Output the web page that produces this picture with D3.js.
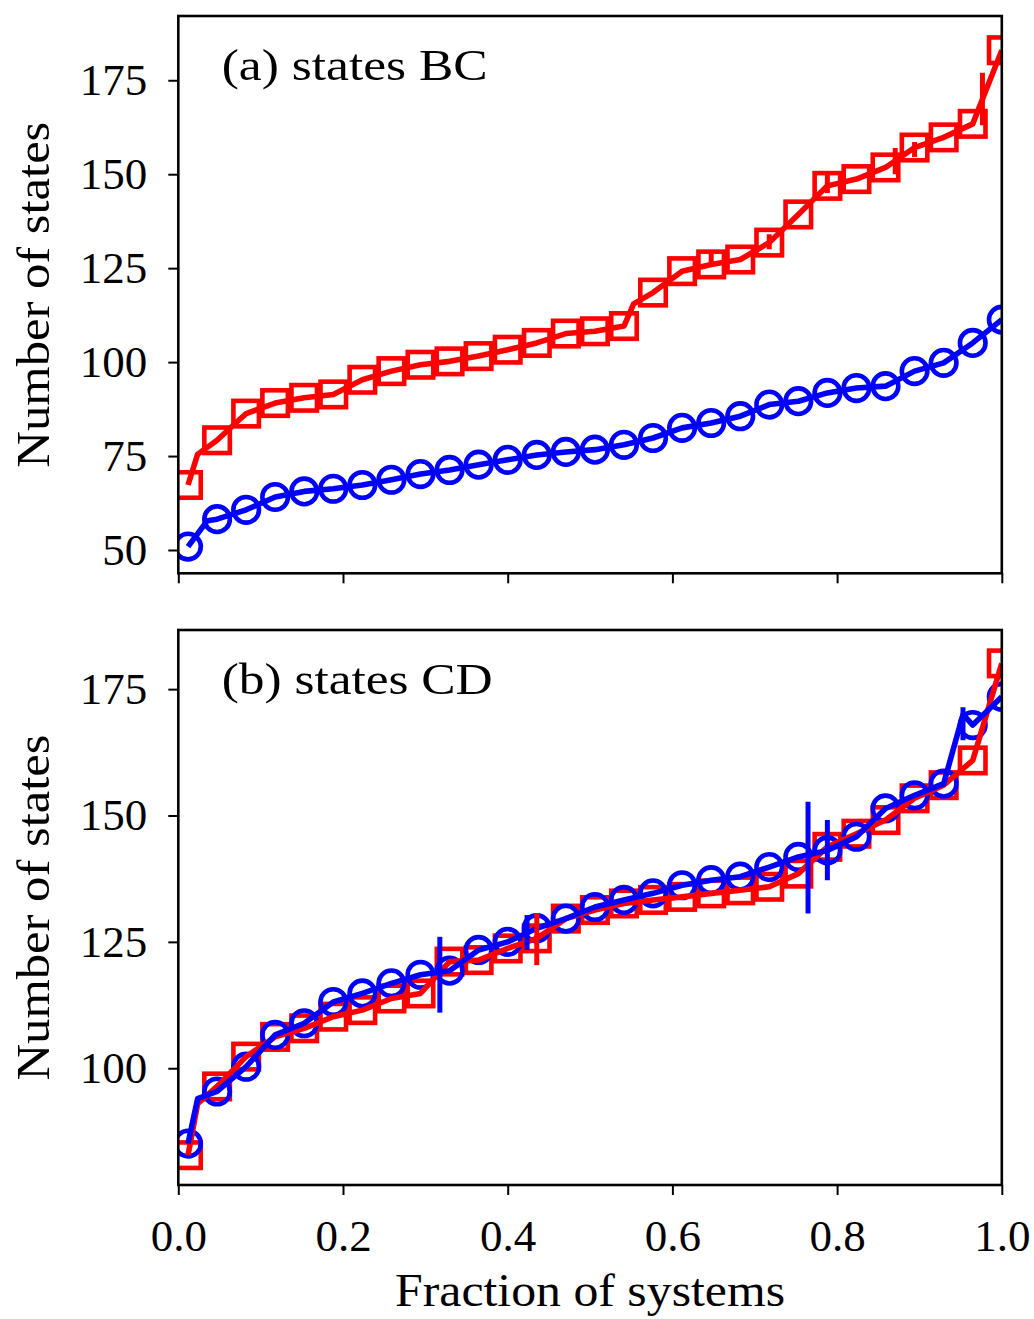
<!DOCTYPE html>
<html><head><meta charset="utf-8">
<script src="https://cdn.jsdelivr.net/npm/d3@7"></script>
<style>
body{margin:0;background:#fff}
svg text{font-family:"Liberation Serif","Times New Roman",serif;fill:#000}
</style>
</head><body><svg id="chart" width="1034" height="1319"></svg>
<script>
// ---------- data ----------
const fractionTicks = [0, 0.2, 0.4, 0.6, 0.8, 1.0];
const fractionTickLabels = ["0.0", "0.2", "0.4", "0.6", "0.8", "1.0"];
const markerFractions = [0.0118, 0.0471, 0.0824, 0.1176, 0.1529, 0.1882, 0.2235, 0.2588, 0.2941, 0.3294,
  0.3647, 0.4000, 0.4353, 0.4706, 0.5059, 0.5412, 0.5765, 0.6118, 0.6471, 0.6824,
  0.7176, 0.7529, 0.7882, 0.8235, 0.8588, 0.8941, 0.9294, 0.9647, 1.0000];

const bcTicks = [50, 75, 100, 125, 150, 175];
const cdTicks = [100, 125, 150, 175];

// panel (a) states BC
const bcRed = [67.3, 79.2, 86.3, 89.1, 90.5, 91.4, 95.3, 97.6, 99.3, 100.2, 101.6, 103.3, 105.1, 107.6, 108.2,
  109.6, 118.5, 124.2, 126.0, 127.3, 131.8, 139.3, 146.9, 148.7, 151.8, 157.1, 159.8, 163.4, 183.0];
const bcBlue = [50.9, 58.2, 60.7, 64.1, 65.6, 66.3, 67.3, 68.7, 70.2, 71.3, 72.7, 74.0, 75.3, 76.1, 76.7,
  78.0, 79.8, 82.5, 83.8, 85.6, 88.7, 89.6, 91.8, 93.1, 93.6, 97.6, 99.8, 105.1, 111.3];
const bcRedExtraX = [0.0235, 0.0706, 0.5529];
const bcRedExtraY = [75.5, 84.0, 115.5];
const bcBlueExtraX = [0.0353];
const bcBlueExtraY = [57.8];
const bcRedErrX  = [0.6471, 0.7176, 0.7882, 0.8706, 0.8941, 0.9765];
const bcRedErrLo = [126.0, 130.0, 145.0, 150.0, 154.6, 163.0];
const bcRedErrHi = [129.3, 134.0, 150.0, 157.0, 158.6, 177.0];
const bcBlueErrX = [], bcBlueErrLo = [], bcBlueErrHi = [];

// panel (b) states CD
const cdRed = [82.8, 96.4, 102.3, 106.2, 107.9, 110.2, 111.5, 113.8, 114.8, 121.1, 121.4, 123.7, 125.7, 129.6, 131.3,
  132.6, 133.3, 133.9, 134.6, 135.2, 135.9, 138.5, 143.8, 146.4, 149.1, 153.4, 156.0, 160.9, 180.1];
const cdBlue = [85.1, 95.4, 100.3, 106.6, 108.9, 113.1, 114.8, 116.8, 118.5, 119.3, 123.4, 125.0, 127.7, 129.6, 131.9,
  133.3, 134.6, 136.2, 137.2, 137.9, 139.8, 141.8, 143.1, 145.8, 151.4, 154.0, 156.3, 167.9, 173.5];
const cdRedExtraX = [0.0235];
const cdRedExtraY = [93.0];
const cdBlueExtraX = [0.0235, 0.9529];
const cdBlueExtraY = [94.0, 170.0];
const cdRedErrX  = [0.4353];
const cdRedErrLo = [120.4];
const cdRedErrHi = [130.7];
const cdBlueErrX  = [0.3176, 0.4235, 0.7647, 0.7882, 0.9529];
const cdBlueErrLo = [111.0, 123.4, 130.6, 137.2, 164.9];
const cdBlueErrHi = [126.0, 130.3, 152.7, 149.1, 171.4];

const xTitle = "Fraction of systems";
const yTitle = "Number of states";

// ---------- drawing ----------
const svg = d3.select("#chart");
const L = 178.3, R = 1001.8;
const RED = "#ff0000", BLUE = "#0000ff";
const x = d3.scaleLinear().domain([0, 1]).range([L, R]);

function mergeLine(xs, ys, ex, ey) {
  const pts = xs.map((v, i) => [v, ys[i]]).concat(ex.map((v, i) => [v, ey[i]]));
  return pts.sort((a, b) => a[0] - b[0]);
}

function panel(cfg, idx) {
  const y = d3.scaleLinear().domain(cfg.domain).range([cfg.bottom, cfg.top]);
  const clipId = "clip" + idx;
  svg.append("clipPath").attr("id", clipId).append("rect")
    .attr("x", L).attr("y", cfg.top).attr("width", R - L).attr("height", cfg.bottom - cfg.top);
  const g = svg.append("g").attr("clip-path", `url(#${clipId})`);

  const line = d3.line().x(d => x(d[0])).y(d => y(d[1]));
  const s = 25.5;
  // red squares
  g.selectAll(null).data(markerFractions).enter().append("rect")
    .attr("x", (d) => x(d) - s / 2).attr("y", (d, i) => y(cfg.red[i]) - s / 2)
    .attr("width", s).attr("height", s)
    .attr("fill", "none").attr("stroke", RED).attr("stroke-width", 4.6);
  // blue circles
  g.selectAll(null).data(markerFractions).enter().append("circle")
    .attr("cx", d => x(d)).attr("cy", (d, i) => y(cfg.blue[i])).attr("r", 12.8)
    .attr("fill", "none").attr("stroke", BLUE).attr("stroke-width", 4.6);
  // lines
  g.append("path").datum(mergeLine(markerFractions, cfg.red, cfg.redEx[0], cfg.redEx[1]))
    .attr("d", line).attr("fill", "none").attr("stroke", RED).attr("stroke-width", 5.6)
    .attr("stroke-linejoin", "round");
  g.append("path").datum(mergeLine(markerFractions, cfg.blue, cfg.blueEx[0], cfg.blueEx[1]))
    .attr("d", line).attr("fill", "none").attr("stroke", BLUE).attr("stroke-width", 5.6)
    .attr("stroke-linejoin", "round");
  // error bars
  g.selectAll(null).data(cfg.redErr[0]).enter().append("line")
    .attr("x1", d => x(d)).attr("x2", d => x(d))
    .attr("y1", (d, i) => y(cfg.redErr[1][i])).attr("y2", (d, i) => y(cfg.redErr[2][i]))
    .attr("stroke", RED).attr("stroke-width", 5);
  g.selectAll(null).data(cfg.blueErr[0]).enter().append("line")
    .attr("x1", d => x(d)).attr("x2", d => x(d))
    .attr("y1", (d, i) => y(cfg.blueErr[1][i])).attr("y2", (d, i) => y(cfg.blueErr[2][i]))
    .attr("stroke", BLUE).attr("stroke-width", 5);

  // axes
  const ya = svg.append("g").attr("transform", `translate(${L},0)`)
    .call(d3.axisLeft(y).tickValues(cfg.ticks).tickSize(10).tickPadding(21).tickFormat(d3.format("d")));
  ya.select(".domain").remove();
  ya.selectAll(".tick line").attr("stroke", "#000").attr("stroke-width", 2);
  ya.selectAll(".tick text").attr("font-size", 45).attr("font-family", "Liberation Serif");

  const xa = svg.append("g").attr("transform", `translate(0,${cfg.bottom})`)
    .call(d3.axisBottom(x).tickValues(fractionTicks).tickSize(10).tickPadding(24)
      .tickFormat((d, i) => cfg.showX ? fractionTickLabels[i] : ""));
  xa.select(".domain").remove();
  xa.selectAll(".tick line").attr("stroke", "#000").attr("stroke-width", 2);
  xa.selectAll(".tick text").attr("font-size", 45).attr("font-family", "Liberation Serif");

  // frame
  svg.append("rect").attr("x", L).attr("y", cfg.top).attr("width", R - L).attr("height", cfg.bottom - cfg.top)
    .attr("fill", "none").attr("stroke", "#000").attr("stroke-width", 2.6);

  // panel label
  svg.append("text").attr("x", 221.7).attr("y", cfg.top + 64).attr("font-size", 45)
    .attr("textLength", cfg.labelLen).attr("lengthAdjust", "spacingAndGlyphs").text(cfg.label);

  // y title
  const cy = (cfg.top + cfg.bottom) / 2;
  svg.append("text").attr("transform", `translate(49,${cy}) rotate(-90)`)
    .attr("text-anchor", "middle").attr("font-size", 46)
    .attr("textLength", 346).attr("lengthAdjust", "spacingAndGlyphs").text(yTitle);
}

panel({ top: 16, bottom: 573.3, domain: [43.8, 192.1], ticks: bcTicks, showX: false,
  red: bcRed, blue: bcBlue, redEx: [bcRedExtraX, bcRedExtraY], blueEx: [bcBlueExtraX, bcBlueExtraY],
  redErr: [bcRedErrX, bcRedErrLo, bcRedErrHi], blueErr: [bcBlueErrX, bcBlueErrLo, bcBlueErrHi],
  label: "(a) states BC", labelLen: 266 }, 0);

panel({ top: 630, bottom: 1185, domain: [76.9, 186.7], ticks: cdTicks, showX: true,
  red: cdRed, blue: cdBlue, redEx: [cdRedExtraX, cdRedExtraY], blueEx: [cdBlueExtraX, cdBlueExtraY],
  redErr: [cdRedErrX, cdRedErrLo, cdRedErrHi], blueErr: [cdBlueErrX, cdBlueErrLo, cdBlueErrHi],
  label: "(b) states CD", labelLen: 271 }, 1);

svg.append("text").attr("x", (L + R) / 2).attr("y", 1306).attr("text-anchor", "middle")
  .attr("font-size", 46).attr("textLength", 390).attr("lengthAdjust", "spacingAndGlyphs").text(xTitle);
</script>
</body></html>
